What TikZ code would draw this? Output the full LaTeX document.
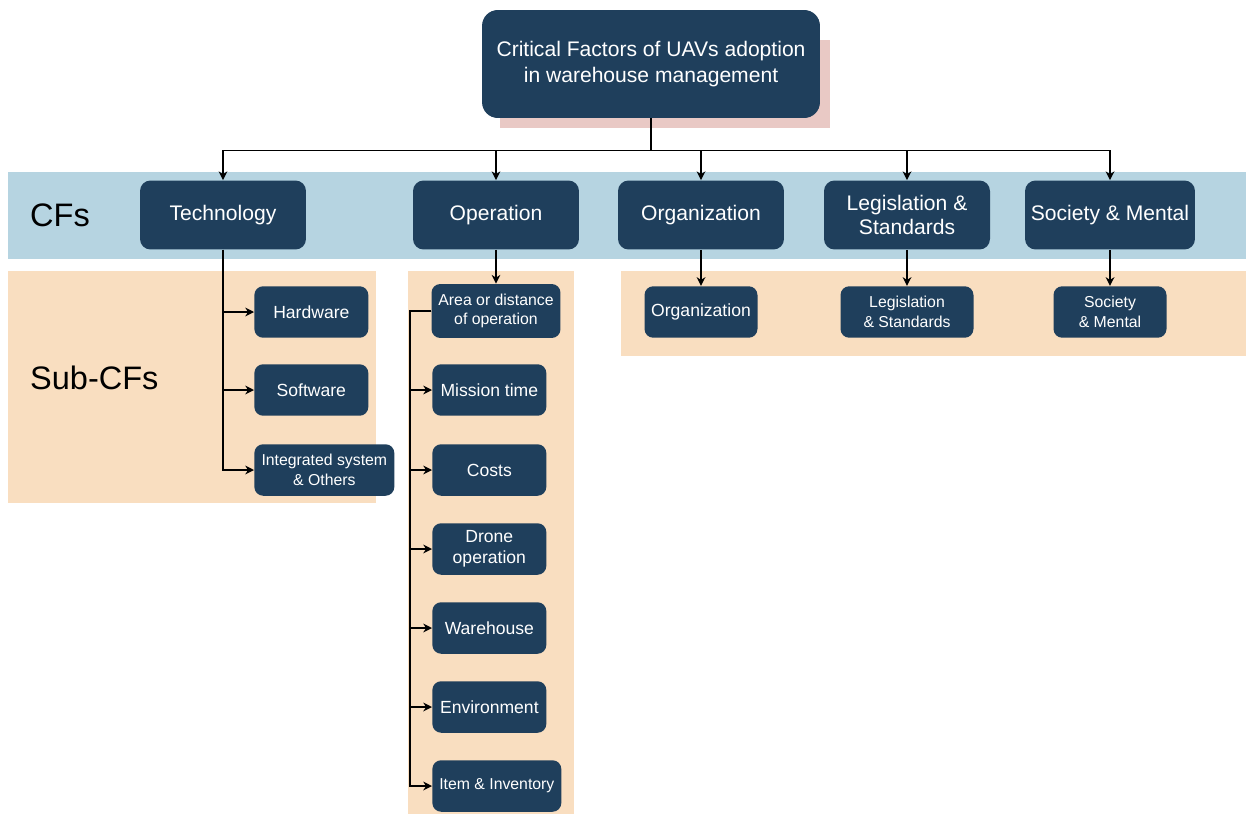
\documentclass[tikz,border=0pt]{standalone}
\usepackage{fontspec}
\setmainfont{Liberation Sans}
\usepackage{xcolor}
\definecolor{boxdark}{HTML}{1F3F5C}
\definecolor{bandblue}{HTML}{B6D4E1}
\definecolor{bandpeach}{HTML}{F9DEC0}
\definecolor{shadowpink}{HTML}{E9C9C5}
\usepackage{tikz}
\usetikzlibrary{arrows.meta,positioning}

\begin{document}
\begin{tikzpicture}[x=0.02cm, y=-0.02cm,
    top/.style={rectangle, rounded corners=9pt, fill=boxdark, text=white, minimum width=6.76cm, minimum height=2.16cm, font=\fontsize{12}{14.5}\selectfont, align=center},
    cf/.style={rectangle, rounded corners=6pt, fill=boxdark, text=white, minimum width=3.32cm, minimum height=1.38cm, font=\fontsize{12}{14}\selectfont, align=center},
    sub/.style={rectangle, rounded corners=5pt, fill=boxdark, text=white, minimum width=2.28cm, minimum height=1.03cm, font=\fontsize{10}{12}\selectfont, align=center, anchor=west, inner sep=2pt},
    small/.style={font=\fontsize{9}{11}\selectfont},
    band/.style={font=\fontsize{18.5}{22}\selectfont, anchor=west, text=black},
    con/.style={draw=black, line width=0.8pt},
    arr/.style={con, -{Stealth[length=5pt,width=5pt]}},
  ]
    \useasboundingbox (0,0) rectangle (1246,814);
    % Bands
    \fill[bandblue] (8,172) rectangle (1246,259);
    \fill[bandpeach] (8,271) rectangle (376,503);
    \fill[bandpeach] (408,271) rectangle (574,814);
    \fill[bandpeach] (621,271) rectangle (1246,356);
    \fill[shadowpink] (500,40) rectangle (830,128);
    \node[band] (cflab) at (24,215) {CFs};
    \node[band] (sublab) at (24,378) {Sub-CFs};
    % Root and CFs
    \node[top] (root) at (651,64) {Critical Factors of UAVs adoption\\in warehouse management};
    \node[cf] (tech) at (223,215) {Technology};
    \node[cf] (oper) at (496,215) {Operation};
    \node[cf] (org) at (701,215) {Organization};
    \node[cf] (legis) at (907,215) {Legislation \&\\Standards};
    \node[cf] (soc) at (1110,215) {Society \& Mental};
    % Sub-CFs
    \node[sub] (hw) at (254,312) {Hardware};
    \node[sub] (sw) at (254,390) {Software};
    \node[sub, small, minimum width=2.8cm] (integ) at (254,470) {Integrated system\\\& Others};
    \node[sub, small, anchor=center, minimum width=2.58cm, minimum height=1.08cm] (area) at (496,311) {Area or distance\\of operation};
    \node[sub] (mis) at (432,390) {Mission time};
    \node[sub] (cost) at (432,470) {Costs};
    \node[sub] (drone) at (432,549) {Drone\\operation};
    \node[sub] (ware) at (432,628) {Warehouse};
    \node[sub] (env) at (432,707) {Environment};
    \node[sub, small, minimum width=2.58cm] (item) at (432,786) {Item \& Inventory};
    \node[sub, anchor=center, minimum width=2.26cm] (orgs) at (701,312) {Organization};
    \node[sub, small, anchor=center, minimum width=2.66cm] (legs) at (907,312) {Legislation\\\& Standards};
    \node[sub, small, anchor=center, minimum width=2.26cm] (socs) at (1110,312) {Society\\\& Mental};
    % Connectors
    \draw[con] (root.south) -- ++(0,32) coordinate (bus);
    \draw[con] (bus -| tech) -- (bus -| soc);
    \foreach \n in {tech,oper,org,legis,soc}
      \draw[arr] (bus -| \n) -- (\n.north);
    \foreach \n in {hw,sw,integ}
      \draw[arr] (tech.south) |- (\n.west);
    \draw[arr] (oper.south) -- (area.north);
    \coordinate (opbus) at (410,311);
    \foreach \n in {mis,cost,drone,ware,env,item}
      \draw[arr] (area.west) -- (opbus) |- (\n.west);
    \draw[arr] (org.south) -- (orgs.north);
    \draw[arr] (legis.south) -- (legs.north);
    \draw[arr] (soc.south) -- (socs.north);
  \end{tikzpicture}
\end{document}
